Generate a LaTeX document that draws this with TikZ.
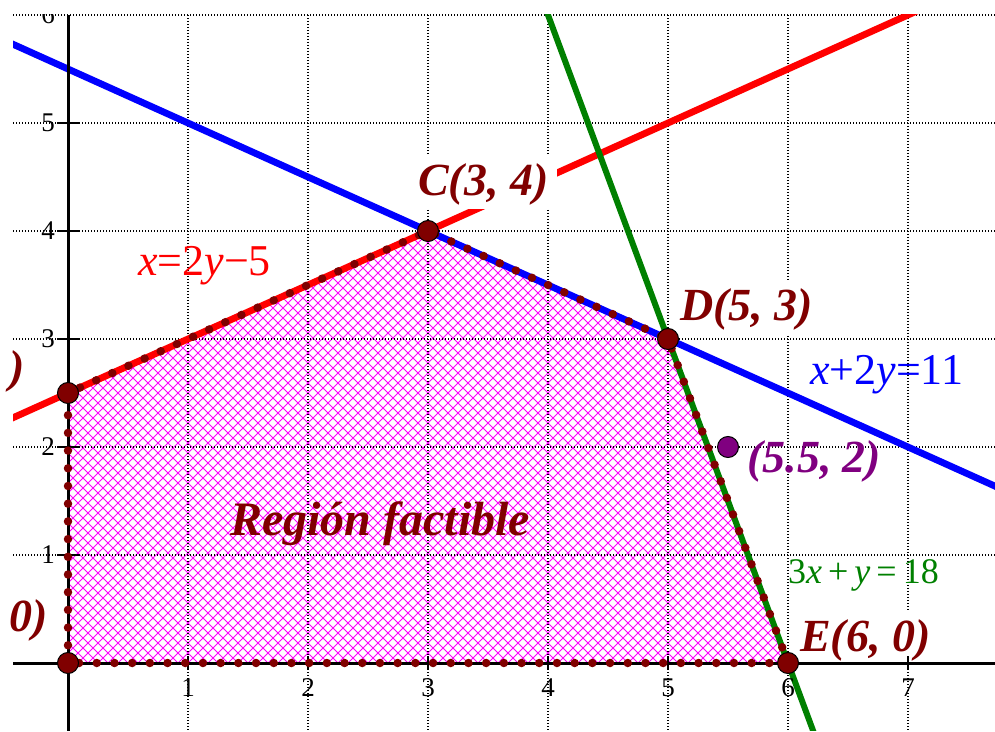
\documentclass[tikz,border=0pt]{standalone}
\usepackage{fontspec}
\setmainfont{Liberation Serif}
\definecolor{ptred}{RGB}{128,0,0}
\definecolor{ptpurple}{RGB}{128,0,128}
\definecolor{lgreen}{RGB}{0,128,0}
\definecolor{hatchmag}{RGB}{255,0,255}
\definecolor{lblue}{RGB}{0,0,255}
\definecolor{lred}{RGB}{255,0,0}
\begin{document}
\begin{tikzpicture}[x=120pt,y=108pt,
  gridline/.style={black, line width=1.2pt, dash pattern=on 1.2pt off 1.8pt},
  hatchline/.style={hatchmag, line width=0.9pt},
  axisline/.style={black, line width=3pt},
  tickmark/.style={black, line width=2.2pt},
  ticklabel/.style={font=\fontsize{27}{30}\selectfont, inner sep=0pt},
  blueline/.style={lblue, line width=6.8pt},
  redline/.style={lred, line width=6.8pt},
  greenline/.style={lgreen, line width=6pt},
  bdots/.style={ptred, line width=8.5pt, line cap=round, dash pattern=on 0pt off 17.7pt},
  vertex/.style={circle, fill=ptred, draw=black, line width=1pt, minimum size=21pt, inner sep=0pt},
  pvertex/.style={circle, fill=ptpurple, draw=black, line width=1pt, minimum size=21pt, inner sep=0pt},
  ptlabel/.style={text=ptred, font=\fontsize{46}{50}\selectfont\bfseries\itshape, inner sep=0pt},
  boxlabel/.style={ptlabel, fill=white, inner xsep=8pt, inner ysep=1pt, text height=40pt, text depth=12pt},
  eqlabel/.style={font=\fontsize{44}{48}\selectfont, inner sep=0pt}
]
\useasboundingbox (-68pt,-68pt) rectangle (927pt,663pt);

% crosshatched feasible region
\begin{scope}
  \clip (0,0) -- (0,2.5) -- (3,4) -- (5,3) -- (6,0) -- cycle;
  \foreach \c in {-46,...,75} \draw[hatchline] (\c*10pt-20pt,-20pt) -- (\c*10pt+460pt,460pt);
  \foreach \c in {-3,...,118} \draw[hatchline] (\c*10pt+20pt,-20pt) -- (\c*10pt-460pt,460pt);
\end{scope}

\begin{scope}
  \clip (-0.4583,-0.6296) rectangle (7.725,6);
  % grid
  \foreach \k in {1,...,6} \draw[gridline] (-0.4583,\k) -- (7.725,\k);
  \foreach \k in {1,...,7} \draw[gridline] (\k,6) -- (\k,-0.6296);
  % y tick labels
  \foreach \k in {1,...,6} \node[ticklabel] (ty\k) at (-20pt,\k*108pt) {\k};
  % constraint lines
  \draw[blueline] (-0.6,5.8) -- (7.8,1.6);
  \draw[redline] (-0.6,2.2) -- (7.2,6.1);
  \draw[greenline] (3.9667,6.1) -- (6.2333,-0.7);
\end{scope}

% x tick labels
\foreach \k in {1,...,7} \node[ticklabel] (tx\k) at (\k*120pt,-25pt) {\k};

% labels with white boxes
\node[boxlabel, anchor=base west] (labC) at (342pt,467pt) {C(3, 4)};
\node[boxlabel, anchor=base west] (labD) at (604pt,342pt) {D(5, 3)};
\node[boxlabel, anchor=base west] (labE) at (724pt,12pt) {E(6, 0)};

% axes
\draw[axisline] (-0.4583,0) -- (7.725,0);
\draw[axisline] (0,6) -- (0,-0.6296);
\foreach \k in {1,...,7} \draw[tickmark] (\k,0) ++(0,-7pt) -- ++(0,14pt);
\foreach \k in {1,...,5} \draw[tickmark] (0,\k) ++(-11pt,0) -- ++(22pt,0);

% boundary of region
\draw[bdots] (0,0) -- (0,2.5) -- (3,4) -- (5,3) -- (6,0) -- cycle;

% vertices
\node[vertex] (O) at (0,0) {};
\node[vertex] (A) at (0,2.5) {};
\node[vertex] (C) at (3,4) {};
\node[vertex] (D) at (5,3) {};
\node[vertex] (E) at (6,0) {};
\node[pvertex] (P) at (5.5,2) {};

% other labels
\node[ptlabel, text=ptpurple, anchor=base west] (labP) at (679pt,190pt) {(5.5, 2)};
\node[ptlabel, font=\fontsize{48}{52}\selectfont\bfseries\itshape, anchor=base west] (labR) at (162pt,128pt) {Región factible};
\node[ptlabel, anchor=base east] (labA) at (-43pt,280pt) {)};
\node[ptlabel, anchor=base east] (labO) at (-20pt,32pt) {0)};
\node[eqlabel, text=lblue, anchor=base west] (eqB) at (742pt,278pt) {\textit{x}+2\textit{y}=11};
\node[eqlabel, text=lred, anchor=base west] (eqR) at (70pt,387pt) {\textit{x}=2\textit{y}−5};
\node[eqlabel, text=lgreen, font=\fontsize{36}{40}\selectfont, anchor=base west] (eqG) at (720pt,80pt) {3\textit{x}\,+\,\textit{y}\,=\,18};
\end{tikzpicture}
\end{document}
